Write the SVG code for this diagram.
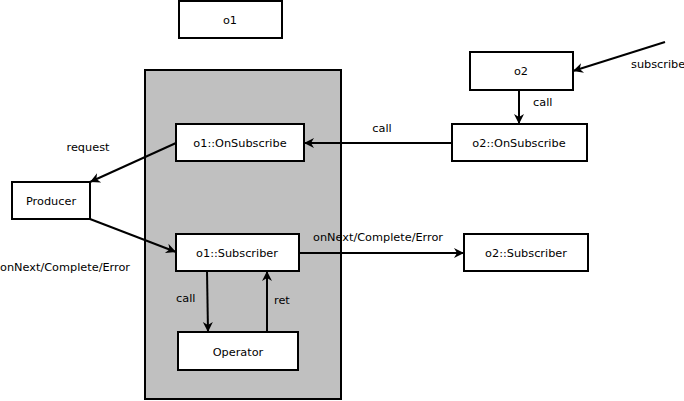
<svg xmlns="http://www.w3.org/2000/svg" width="684" height="401" viewBox="0 0 684 401">
<style>
.box{fill:#fff;stroke:#000;stroke-width:2}
.cont{fill:#c0c0c0;stroke:#000;stroke-width:2}
text{font-family:"DejaVu Sans",Verdana,sans-serif;font-size:11.3px;fill:#000}
.c{text-anchor:middle}
.e{fill:none;stroke:#000;stroke-width:2;marker-end:url(#arr)}
</style>
<defs>
<marker id="arr" viewBox="0 0 12 12" refX="11" refY="6" markerWidth="12" markerHeight="12" markerUnits="userSpaceOnUse" orient="auto">
<path d="M1,1 L11,6 L1,11 L4,6 Z" fill="#000"/>
</marker>
</defs>
<g id="container"><rect class="cont" x="145" y="70" width="196" height="329"/></g>
<g id="o1"><rect class="box" x="179" y="1" width="103" height="37"/><text class="c" x="230" y="24">o1</text></g>
<g id="o2"><rect class="box" x="470" y="52" width="103" height="38"/><text class="c" x="521" y="75">o2</text></g>
<g id="o1OnSubscribe"><rect class="box" x="176" y="124" width="128" height="37"/><text class="c" x="240" y="147">o1::OnSubscribe</text></g>
<g id="o2OnSubscribe"><rect class="box" x="452" y="124" width="135" height="37"/><text class="c" x="519" y="147">o2::OnSubscribe</text></g>
<g id="Producer"><rect class="box" x="12" y="182" width="78" height="37"/><text class="c" x="51" y="205">Producer</text></g>
<g id="o1Subscriber"><rect class="box" x="176" y="234" width="123" height="37"/><text class="c" x="237" y="257">o1::Subscriber</text></g>
<g id="o2Subscriber"><rect class="box" x="464" y="234" width="124" height="37"/><text class="c" x="526" y="257">o2::Subscriber</text></g>
<g id="Operator"><rect class="box" x="178" y="332" width="120" height="38"/><text class="c" x="238" y="356">Operator</text></g>
<g id="connectors">
<path class="e" d="M665,42 L573,71"/>
<text x="631" y="68">subscribe</text>
<path class="e" d="M519,90 L519,124"/>
<text x="533" y="106">call</text>
<path class="e" d="M452,143 L304,143"/>
<text class="c" x="382" y="132">call</text>
<path class="e" d="M176,143 L90,182"/>
<text class="c" x="88" y="151">request</text>
<path class="e" d="M90,219 L176,252"/>
<text class="c" x="65" y="271">onNext/Complete/Error</text>
<path class="e" d="M299,253 L464,253"/>
<text class="c" x="378" y="241">onNext/Complete/Error</text>
<path class="e" d="M207,271 L208,332"/>
<text x="176" y="302">call</text>
<path class="e" d="M267,332 L267,271"/>
<text x="274" y="304">ret</text>
</g>
</svg>
